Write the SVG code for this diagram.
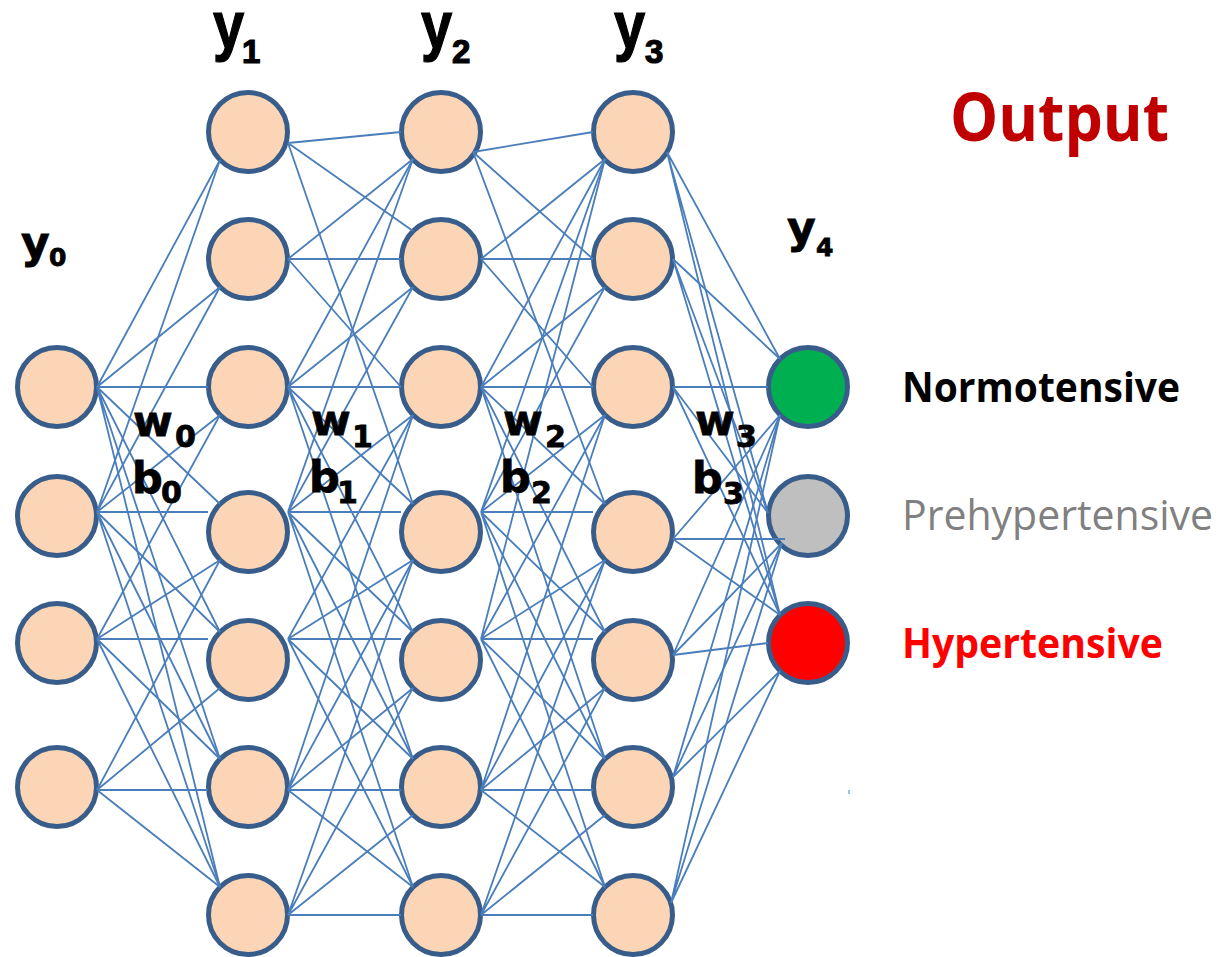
<svg xmlns="http://www.w3.org/2000/svg" width="1226" height="957" viewBox="0 0 1226 957">
<style>
.n{fill:#FBD5B5;stroke:#385D8A;stroke-width:5}
.c{fill:none;stroke:#4A7EBB;stroke-width:1.8}
.yl{font-family:"Liberation Sans",Arial,sans-serif;font-weight:bold;fill:#000;stroke:#000;stroke-width:1.2}
.wb{font-family:"DejaVu Sans",Verdana,sans-serif;font-weight:bold;fill:#000;stroke:#000;stroke-width:0.8}
.rt{font-family:"Open Sans","Noto Sans",sans-serif}
</style>
<rect width="1226" height="957" fill="#fff"/>
<g id="nodes">
<g id="l0n1"><circle class="n" cx="57" cy="387" r="39.5"/></g>
<g id="l0n2"><circle class="n" cx="57" cy="516" r="39.5"/></g>
<g id="l0n3"><circle class="n" cx="57" cy="643" r="39.5"/></g>
<g id="l0n4"><circle class="n" cx="57" cy="787" r="39.5"/></g>
<g id="l1n1"><circle class="n" cx="248" cy="132" r="39.5"/></g>
<g id="l1n2"><circle class="n" cx="248" cy="259" r="39.5"/></g>
<g id="l1n3"><circle class="n" cx="248" cy="387" r="39.5"/></g>
<g id="l1n4"><circle class="n" cx="248" cy="532" r="39.5"/></g>
<g id="l1n5"><circle class="n" cx="248" cy="660" r="39.5"/></g>
<g id="l1n6"><circle class="n" cx="248" cy="787" r="39.5"/></g>
<g id="l1n7"><circle class="n" cx="248" cy="915" r="39.5"/></g>
<g id="l2n1"><circle class="n" cx="441" cy="132" r="39.5"/></g>
<g id="l2n2"><circle class="n" cx="441" cy="259" r="39.5"/></g>
<g id="l2n3"><circle class="n" cx="441" cy="387" r="39.5"/></g>
<g id="l2n4"><circle class="n" cx="441" cy="532" r="39.5"/></g>
<g id="l2n5"><circle class="n" cx="441" cy="660" r="39.5"/></g>
<g id="l2n6"><circle class="n" cx="441" cy="787" r="39.5"/></g>
<g id="l2n7"><circle class="n" cx="441" cy="915" r="39.5"/></g>
<g id="l3n1"><circle class="n" cx="633" cy="132" r="39.5"/></g>
<g id="l3n2"><circle class="n" cx="633" cy="259" r="39.5"/></g>
<g id="l3n3"><circle class="n" cx="633" cy="387" r="39.5"/></g>
<g id="l3n4"><circle class="n" cx="633" cy="532" r="39.5"/></g>
<g id="l3n5"><circle class="n" cx="633" cy="660" r="39.5"/></g>
<g id="l3n6"><circle class="n" cx="633" cy="787" r="39.5"/></g>
<g id="l3n7"><circle class="n" cx="633" cy="915" r="39.5"/></g>
<g id="out1"><circle class="n" cx="808" cy="387" r="39.5" style="fill:#00B050"/></g>
<g id="out2"><circle class="n" cx="808" cy="516" r="39.5" style="fill:#BFBFBF"/></g>
<g id="out3"><circle class="n" cx="808" cy="643" r="39.5" style="fill:#FF0000"/></g>
</g>
<g id="connectors" class="c">
<path d="M97 387L220 160M97 387L220 287M97 387L208 387M97 387L220 504M97 387L220 632M97 387L220 759M97 387L220 887"/>
<path d="M97 512L220 160M97 512L220 287M97 512L220 415M97 512L208 512M97 512L220 632M97 512L220 759M97 512L220 887"/>
<path d="M97 639L220 415M97 639L220 560M97 639L208 639M97 639L220 759M97 639L220 887"/>
<path d="M97 790L220 560M97 790L220 688M97 790L208 790M97 790L220 887"/>
<path d="M288 143L401 132M288 143L413 231M288 143L413 504"/>
<path d="M288 259L413 159M288 259L401 259M288 259L401 387"/>
<path d="M288 387L413 159M288 387L413 287M288 387L401 387M288 387L413 504M288 387L413 632M288 387L413 759"/>
<path d="M288 512L413 159M288 512L413 287M288 512L413 415M288 512L401 512M288 512L413 632M288 512L413 759M288 512L413 887"/>
<path d="M288 639L413 415M288 639L413 560M288 639L401 639M288 639L413 759M288 639L413 887"/>
<path d="M288 790L413 415M288 790L413 560M288 790L413 688M288 790L401 790M288 790L413 887"/>
<path d="M288 915L413 560M288 915L413 688M288 915L413 815M288 915L401 915"/>
<path d="M473 152L593 132M473 152L593 259M473 152L605 504"/>
<path d="M481 259L605 159M481 259L593 259M481 259L593 387"/>
<path d="M481 387L605 159M481 387L605 287M481 387L593 387M481 387L605 504M481 387L605 632M481 387L605 759"/>
<path d="M481 512L605 159M481 512L605 287M481 512L605 415M481 512L593 512M481 512L605 632M481 512L605 759M481 512L605 887"/>
<path d="M481 639L605 159M481 639L605 415M481 639L605 560M481 639L593 639M481 639L605 759M481 639L605 887"/>
<path d="M481 790L605 415M481 790L605 560M481 790L605 688M481 790L593 790M481 790L605 887"/>
<path d="M481 915L605 560M481 915L605 688M481 915L605 815M481 915L593 915"/>
<path d="M667 152L780 359M667 152L768 513M667 152L780 615"/>
<path d="M673 259L780 359M673 259L768 513M673 259L780 615"/>
<path d="M673 387L768 387M673 387L768 513M673 387L780 615"/>
<path d="M673 539L780 415M673 539L785 539M673 539L780 615"/>
<path d="M673 655L780 415M673 655L782 543M673 655L768 643"/>
<path d="M673 777L780 415M673 777L782 543M673 777L780 671"/>
<path d="M671 903L780 415M671 903L782 543M671 903L780 671"/>
<path d="M849 790L849 794" style="stroke-width:1"/>
</g>
<g id="layer-labels">
<text class="yl" font-size="66" transform="translate(213,48) scale(0.85,1)">y</text>
<text class="yl" font-size="33" x="242" y="63">1</text>
<text class="yl" font-size="66" transform="translate(421,48) scale(0.85,1)">y</text>
<text class="yl" font-size="33" x="452" y="63">2</text>
<text class="yl" font-size="66" transform="translate(614,48) scale(0.85,1)">y</text>
<text class="yl" font-size="33" x="645" y="63">3</text>
<text class="wb" font-size="44" x="21" y="258">y</text>
<text class="wb" font-size="25" x="49" y="266">0</text>
<text class="wb" font-size="44" x="787" y="243">y</text>
<text class="wb" font-size="25" x="816" y="256">4</text>
</g>
<g id="weight-labels">
<text class="wb" font-size="43" x="133" y="436">w</text>
<text class="wb" font-size="30" x="175" y="447">0</text>
<text class="wb" font-size="43" x="132" y="493">b</text>
<text class="wb" font-size="30" x="161" y="503">0</text>
<text class="wb" font-size="43" x="311" y="435">w</text>
<text class="wb" font-size="30" x="352" y="447">1</text>
<text class="wb" font-size="43" x="309" y="492">b</text>
<text class="wb" font-size="30" x="337" y="503">1</text>
<text class="wb" font-size="43" x="503" y="435">w</text>
<text class="wb" font-size="30" x="545" y="447">2</text>
<text class="wb" font-size="43" x="500" y="492">b</text>
<text class="wb" font-size="30" x="531" y="503">2</text>
<text class="wb" font-size="43" x="695" y="435">w</text>
<text class="wb" font-size="30" x="736" y="447">3</text>
<text class="wb" font-size="43" x="692" y="493">b</text>
<text class="wb" font-size="30" x="723" y="504">3</text>
</g>
<g id="output-labels">
<text class="rt" font-size="66" font-weight="bold" fill="#C00000" x="950" y="141" textLength="219" lengthAdjust="spacingAndGlyphs">Output</text>
<text class="rt" font-size="42" font-weight="bold" fill="#000" x="902" y="402" textLength="278" lengthAdjust="spacingAndGlyphs">Normotensive</text>
<text class="rt" font-size="42" fill="#808080" x="902" y="530" textLength="311" lengthAdjust="spacingAndGlyphs">Prehypertensive</text>
<text class="rt" font-size="42" font-weight="bold" fill="#FF0000" x="902" y="658" textLength="261" lengthAdjust="spacingAndGlyphs">Hypertensive</text>
</g>
</svg>
